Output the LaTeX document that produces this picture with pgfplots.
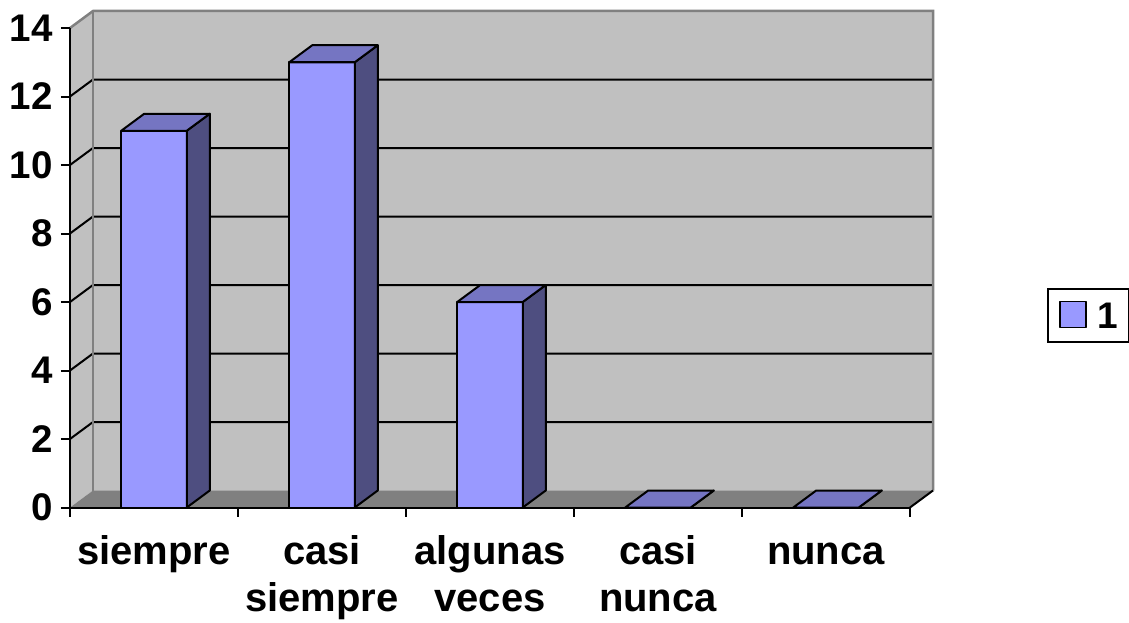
\documentclass[border=0pt]{standalone}
\usepackage{fontspec}
\setmainfont{Liberation Sans}
\usepackage{pgfplots}
\usepackage{pgfplotstable}
\pgfplotsset{compat=1.18}

\definecolor{wallgray}{HTML}{C0C0C0}
\definecolor{edgegray}{HTML}{808080}
\definecolor{floorgray}{HTML}{808080}
\definecolor{barfront}{HTML}{9999FF}
\definecolor{barside}{HTML}{4E4E80}
\definecolor{bartop}{HTML}{7575C2}

% fixed-height strut so that every first label line shares one baseline
\newcommand\tstrut{\rule{0pt}{32pt}}

% answers per category
\pgfplotstableread{
x v
0 11
1 13
2 6
3 0
4 0
}\answers

\tikzset{
  back/.style={shift={(23pt,17pt)}},
  barline/.style={draw=black, line width=2pt, line join=round},
}

\begin{document}
\begin{tikzpicture}
\begin{axis}[
  at={(70pt,114.5pt)}, anchor=south west,
  scale only axis, width=840pt, height=479.5pt,
  xmin=-0.5, xmax=4.5, ymin=0, ymax=14,
  clip=false, axis on top,
  axis x line*=bottom, axis y line*=left,
  axis line style={line width=2pt, black},
  tick align=outside,
  major tick length=9pt,
  tick style={line width=2pt, black},
  xtick={-0.5,0.5,...,4.5}, xticklabels={},
  extra x ticks={0,1,2,3,4},
  extra x tick labels={{\tstrut siempre},{\tstrut casi\\siempre},{\tstrut algunas\\veces},{\tstrut casi\\nunca},{\tstrut nunca}},
  extra x tick style={major tick length=0pt},
  xticklabel style={align=center, font=\bfseries\fontsize{40}{47}\selectfont, inner sep=0pt, yshift=-25pt},
  ytick={0,2,...,14},
  yticklabel style={font=\bfseries\fontsize{38.5}{38}\selectfont, inner sep=0pt, xshift=-8pt},
  /pgf/number format/assume math mode=true,
  legend style={at={(1.1631,0.4578)}, anchor=north west, draw=black, line width=2pt,
    inner xsep=11pt, inner ysep=12pt, font=\bfseries\fontsize{37}{37}\selectfont,
    nodes={inner sep=0pt}},
  /tikz/every odd column/.style={column sep=11pt},
]
% walls
\fill[wallgray] (axis cs:-0.5,0) -- ([back]axis cs:-0.5,0) -- ([back]axis cs:-0.5,14) -- (axis cs:-0.5,14) -- cycle;
\fill[wallgray] ([back]axis cs:-0.5,0) rectangle ([back]axis cs:4.5,14);
% gridlines on the side and back walls
\pgfplotsinvokeforeach{2,4,...,12}{
  \draw[black, line width=2pt] (axis cs:-0.5,#1) -- ([back]axis cs:-0.5,#1) -- ([back]axis cs:4.5,#1);
}
\draw[edgegray, line width=2.5pt] (axis cs:-0.5,14) -- ([back]axis cs:-0.5,14) -- ([back]axis cs:4.5,14) -- ([back]axis cs:4.5,0);
\draw[edgegray, line width=2.5pt] ([back]axis cs:-0.5,0) -- ([back]axis cs:-0.5,14);
% floor
\fill[floorgray] (axis cs:-0.5,0) -- (axis cs:4.5,0) -- ([back]axis cs:4.5,0) -- ([back]axis cs:-0.5,0) -- cycle;
\draw[black, line width=2pt] (axis cs:4.5,0) -- ([back]axis cs:4.5,0);

% front faces
\addplot[ybar, bar width=0.39, fill=barfront, barline,
  legend image code/.code={\draw[fill=barfront, line width=1.5pt] (0pt,-11pt) rectangle (26pt,15pt);}]
  table[x=x, y=v] {\answers};
\addlegendentry{1}

% side and top faces
\pgfplotsinvokeforeach{0,...,4}{
  \pgfplotstablegetelem{#1}{v}\of\answers
  \pgfmathsetmacro\xl{#1-0.195}
  \pgfmathsetmacro\xr{#1+0.195}
  \edef\barcmd{%
    \noexpand\filldraw[fill=barside, barline] (axis cs:\xr,0) -- ([back]axis cs:\xr,0) -- ([back]axis cs:\xr,\pgfplotsretval) -- (axis cs:\xr,\pgfplotsretval) -- cycle;
    \noexpand\filldraw[fill=bartop, barline] (axis cs:\xl,\pgfplotsretval) -- (axis cs:\xr,\pgfplotsretval) -- ([back]axis cs:\xr,\pgfplotsretval) -- ([back]axis cs:\xl,\pgfplotsretval) -- cycle;
  }
  \barcmd
}
\end{axis}
\pgfresetboundingbox
\useasboundingbox (0,0) rectangle (1129pt,622pt);
\end{tikzpicture}
\end{document}
